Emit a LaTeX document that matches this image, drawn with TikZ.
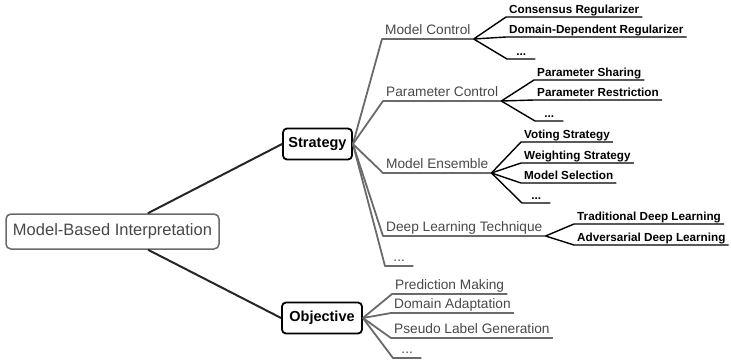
\documentclass[tikz,border=0pt]{standalone}
\usepackage{fontspec}
\setmainfont{Liberation Sans}
\usepackage{tikz}

\definecolor{linegray}{HTML}{6A6A6A}
\definecolor{textgray}{HTML}{484848}

\tikzset{
  root/.style={draw=linegray, line width=1.5pt, rounded corners=5pt, text=textgray,
    font=\fontsize{16.5}{19}\selectfont, minimum width=213pt, minimum height=35pt, inner sep=0pt},
  hub/.style={draw=black, line width=1.8pt, rounded corners=4pt,
    font=\fontsize{14.5}{17}\selectfont\bfseries, minimum height=31pt, inner sep=0pt},
  topic/.style={anchor=south west, text=textgray, font=\fontsize{13.7}{16}\selectfont,
    inner xsep=3pt, inner ysep=0.5pt, text depth=3.5pt},
  leaf/.style={anchor=south west, font=\fontsize{11.7}{14}\selectfont\bfseries,
    inner xsep=3pt, inner ysep=0.5pt, text depth=3pt},
  dots/.style={minimum width=28pt},
  trunk/.style={draw=black!85, line width=2pt},
  branch/.style={draw=linegray, line width=1.8pt, line join=round},
  twig/.style={draw=black, line width=1.4pt, line join=round},
}

\begin{document}
\begin{tikzpicture}[x=1pt, y=-1pt]
  \useasboundingbox (0,0) rectangle (731,360);

  % root and the two hubs
  \node[root] (root) at (112.5,231.5) {Model-Based Interpretation};
  \node[hub, minimum width=69pt] (strategy) at (317.5,144) {Strategy};
  \node[hub, minimum width=80pt] (objective) at (322,318) {Objective};
  \draw[trunk] (root) -- (strategy.west);
  \draw[trunk] (root) -- (objective.west);

  % strategy topics
  \node[topic] (mc) at (382,39) {Model Control};
  \node[topic] (pc) at (383,101) {Parameter Control};
  \node[topic] (me) at (383,173) {Model Ensemble};
  \node[topic] (dl) at (383,236) {Deep Learning Technique};
  \node[topic, dots] (sdots) at (385,266) {...};
  \foreach \t in {mc,pc,me,dl,sdots}
    \draw[branch] (strategy.east) -- (\t.south west) -- (\t.south east);

  % objective topics
  \node[topic] (pm) at (392,294) {Prediction Making};
  \node[topic] (da) at (391,313) {Domain Adaptation};
  \node[topic] (pl) at (391,338) {Pseudo Label Generation};
  \node[topic, dots] (odots) at (393,358) {...};
  \foreach \t in {pm,da,pl,odots}
    \draw[branch] (objective.east) -- (\t.south west) -- (\t.south east);

  % model control
  \node[leaf] (cr) at (506,17) {Consensus Regularizer};
  \node[leaf] (dd) at (506,37) {Domain-Dependent Regularizer};
  \node[leaf, dots] (mcdots) at (507,59) {...};
  \foreach \t in {cr,dd,mcdots}
    \draw[twig] (mc.south east) -- (\t.south west) -- (\t.south east);

  % parameter control
  \node[leaf] (ps) at (534,80) {Parameter Sharing};
  \node[leaf] (pr) at (534,100) {Parameter Restriction};
  \node[leaf, dots] (pcdots) at (535,121) {...};
  \foreach \t in {ps,pr,pcdots}
    \draw[twig] (pc.south east) -- (\t.south west) -- (\t.south east);

  % model ensemble
  \node[leaf] (vs) at (521,142) {Voting Strategy};
  \node[leaf] (ws) at (521,163) {Weighting Strategy};
  \node[leaf] (ms) at (521,183) {Model Selection};
  \node[leaf, dots] (medots) at (522,203) {...};
  \foreach \t in {vs,ws,ms,medots}
    \draw[twig] (me.south east) -- (\t.south west) -- (\t.south east);

  % deep learning technique
  \node[leaf] (td) at (574,224) {Traditional Deep Learning};
  \node[leaf] (ad) at (574,245) {Adversarial Deep Learning};
  \foreach \t in {td,ad}
    \draw[twig] (dl.south east) -- (\t.south west) -- (\t.south east);
\end{tikzpicture}
\end{document}
